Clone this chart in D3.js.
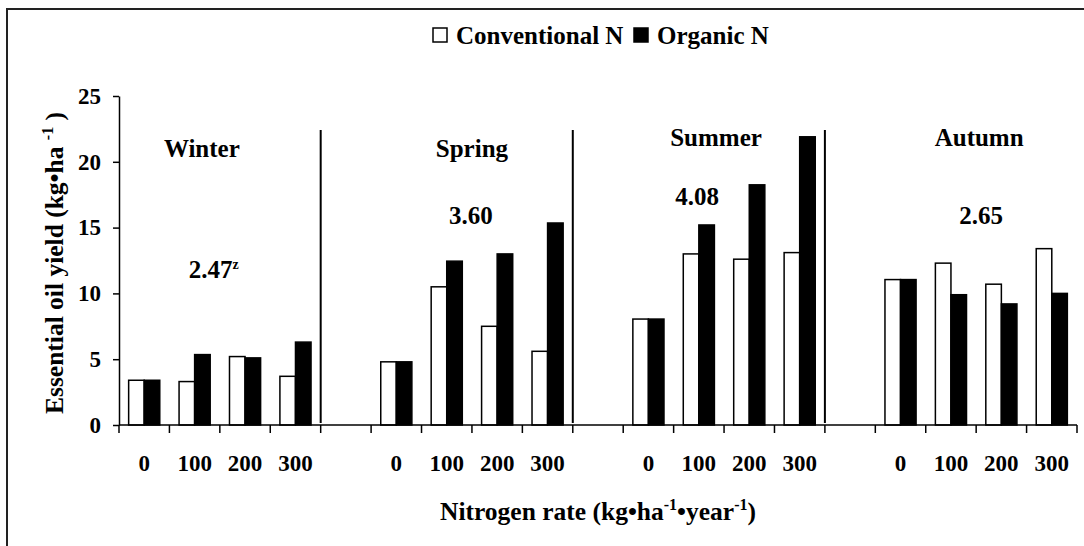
<!DOCTYPE html>
<html>
<head>
<meta charset="utf-8">
<script src="https://cdn.jsdelivr.net/npm/d3@7"></script>
<style>
body { margin: 0; background: #fff; }
</style>
</head>
<body>
<div class="chart"></div>
<script>
var width = 1084;
var height = 546;
var FONT = "'Liberation Serif', 'Times New Roman', Times, 'DejaVu Serif', serif";

var seasons = ["Winter", "Spring", "Summer", "Autumn"];
var rates = ["0", "100", "200", "300"];
var conventional = [
    [3.4, 3.3, 5.2, 3.7],
    [4.8, 10.5, 7.5, 5.6],
    [8.05, 13.0, 12.6, 13.1],
    [11.05, 12.3, 10.7, 13.4]
];
var organic = [
    [3.4, 5.35, 5.1, 6.3],
    [4.8, 12.45, 13.0, 15.35],
    [8.05, 15.2, 18.25, 21.9],
    [11.05, 9.9, 9.2, 10.0]
];
var lsd = ["2.47", "3.60", "4.08", "2.65"];
var yTicks = [0, 5, 10, 15, 20, 25];
var seriesNames = ["Conventional N", "Organic N"];

// slots: four rates per season, one empty slot between seasons
var slots = [];
seasons.forEach(function(s, i) {
    rates.forEach(function(r) { slots.push(s + "-" + r); });
    if (i < seasons.length - 1) slots.push("gap-" + i);
});

var x = d3.scaleBand().domain(slots).range([119, 1077]).padding(0);
var inner = d3.scaleBand().domain(["conv", "org"]).range([0, x.bandwidth()]).paddingInner(0).paddingOuter(0.62);
var y = d3.scaleLinear().domain([0, 25]).range([425, 96]);

function txt(sel, size) {
    return sel.attr("font-family", FONT).style("font-family", FONT)
        .style("font-weight", "bold").style("font-size", size + "px").attr("fill", "#000");
}

function build_svg(c) {
    return c.append("svg").attr("width", width).attr("height", height)
        .attr("font-family", FONT).style("font-family", FONT);
}

function build_frame(s) {
    s.append("path").attr("d", "M7," + height + "V9H" + width)
        .attr("fill", "none").attr("stroke", "#222").attr("stroke-width", 2);
}

function build_axes(s) {
    var yAxis = d3.axisLeft(y).tickValues(yTicks).tickSize(6).tickSizeOuter(0).tickPadding(12);
    var gy = s.append("g").attr("transform", "translate(119,0)").call(yAxis);
    gy.attr("font-family", FONT);
    gy.select(".domain").attr("stroke", "#000").attr("stroke-width", 1.5);
    gy.selectAll(".tick line").attr("stroke", "#000").attr("stroke-width", 1.5);
    txt(gy.selectAll(".tick text"), 23);

    // x axis: ticks at slot boundaries, labels at slot centres
    var gx = s.append("g");
    gx.append("line").attr("x1", 119).attr("x2", 1077).attr("y1", 425).attr("y2", 425)
        .attr("stroke", "#000").attr("stroke-width", 1.5);
    var bounds = slots.map(function(k) { return x(k); }).concat([x.range()[1]]);
    gx.selectAll(".xtick").data(bounds).enter().append("line")
        .attr("x1", function(d) { return d; }).attr("x2", function(d) { return d; })
        .attr("y1", 425).attr("y2", 433)
        .attr("stroke", "#000").attr("stroke-width", 1.5);
    var lab = gx.selectAll(".xlab").data(slots.filter(function(k) { return k.indexOf("gap") !== 0; }))
        .enter().append("text")
        .attr("x", function(k) { return x(k) + x.bandwidth() / 2; })
        .attr("y", 471)
        .attr("text-anchor", "middle")
        .text(function(k) { return k.split("-")[1]; });
    txt(lab, 23);
}

function build_dividers(s) {
    s.selectAll(".divider").data(slots.filter(function(k) { return k.indexOf("gap") === 0; }))
        .enter().append("line")
        .attr("x1", function(k) { return x(k); }).attr("x2", function(k) { return x(k); })
        .attr("y1", 130).attr("y2", 423)
        .attr("stroke", "#000").attr("stroke-width", 2);
}

function build_bars(s) {
    var rows = [];
    seasons.forEach(function(se, i) {
        rates.forEach(function(r, j) {
            rows.push({ key: se + "-" + r, series: "conv", value: conventional[i][j] });
            rows.push({ key: se + "-" + r, series: "org", value: organic[i][j] });
        });
    });
    s.selectAll(".bar").data(rows).enter().append("rect")
        .attr("class", "bar")
        .attr("x", function(d) { return x(d.key) + inner(d.series); })
        .attr("y", function(d) { return y(d.value); })
        .attr("width", inner.bandwidth())
        .attr("height", function(d) { return y(0) - y(d.value); })
        .attr("fill", function(d) { return d.series === "conv" ? "#fff" : "#000"; })
        .attr("stroke", "#000").attr("stroke-width", 1.5);
}

function build_labels(s) {
    // season names and LSD values
    var seasonDx = [-18, 0, -8, 3];
    var seasonY = [157, 157, 146, 146];
    var lsdDx = [-6, -1, -27, 5];
    var lsdY = [278, 224, 205, 224];
    seasons.forEach(function(se, i) {
        var cx = (x(se + "-0") + x(se + "-300") + x.bandwidth()) / 2;
        txt(s.append("text").attr("x", cx + seasonDx[i]).attr("y", seasonY[i])
            .attr("text-anchor", "middle").text(se), 25);
        var t = txt(s.append("text").attr("x", cx + lsdDx[i]).attr("y", lsdY[i])
            .attr("text-anchor", "middle"), 25);
        t.append("tspan").text(lsd[i]);
        if (i === 0) {
            t.append("tspan").attr("dy", -9).style("font-size", "14px").text("z");
        }
    });
}

function build_titles(s) {
    var yt = txt(s.append("text").attr("transform", "translate(63,263) rotate(-90)")
        .attr("text-anchor", "middle"), 25.5);
    yt.append("tspan").text("Essential oil yield (kg\u2022ha ");
    yt.append("tspan").attr("dy", -10).style("font-size", "16px").text("-1");
    yt.append("tspan").attr("dy", 10).text(" )");

    var xt = txt(s.append("text").attr("x", 598).attr("y", 520)
        .attr("text-anchor", "middle"), 25.5);
    xt.append("tspan").text("Nitrogen rate (kg\u2022ha");
    xt.append("tspan").attr("dy", -10).style("font-size", "16px").text("-1");
    xt.append("tspan").attr("dy", 10).text("\u2022year");
    xt.append("tspan").attr("dy", -10).style("font-size", "16px").text("-1");
    xt.append("tspan").attr("dy", 10).text(")");
}

function build_legend(s) {
    var g = s.append("g");
    var pos = [433, 634];
    seriesNames.forEach(function(n, i) {
        g.append("rect").attr("x", pos[i]).attr("y", 28).attr("width", 14).attr("height", 14)
            .attr("fill", i === 0 ? "#fff" : "#000").attr("stroke", "#000").attr("stroke-width", 1.5);
        txt(g.append("text").attr("x", pos[i] + 23).attr("y", 44).text(n), 25);
    });
}

function main() {
    var svg = build_svg(d3.select(".chart"));
    svg.append("rect").attr("width", width).attr("height", height).attr("fill", "#fff");
    build_frame(svg);
    build_bars(svg);
    build_dividers(svg);
    build_axes(svg);
    build_labels(svg);
    build_titles(svg);
    build_legend(svg);
}

main();
</script>
</body>
</html>
